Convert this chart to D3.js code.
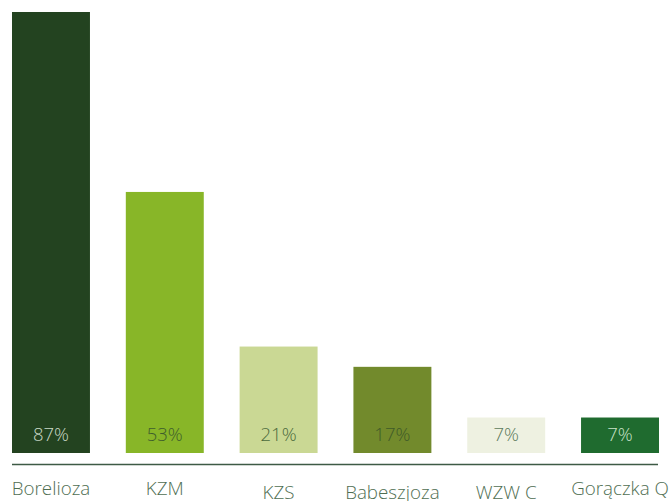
<!DOCTYPE html>
<html>
<head>
<meta charset="utf-8">
<script src="https://cdn.jsdelivr.net/npm/d3@7"></script>
<style>
  body { margin: 0; background: #fff; }
  svg { display: block; font-family: "Open Sans", sans-serif; }
</style>
</head>
<body>
<svg width="672" height="501"></svg>
<script>
// data
var categories = ["Borelioza", "KZM", "KZS", "Babeszjoza", "WZW C", "Gorączka Q"];
var values = [87, 51.5, 21, 17, 7, 7];
var valueLabels = ["87%", "53%", "21%", "17%", "7%", "7%"];

var barColors = ["#234320", "#88b628", "#cad894", "#728a2c", "#eef1e1", "#1f6b2f"];
var textColors = ["#c9d9c6", "#3f5e2c", "#4a6a3c", "#3f5a28", "#5b7a5b", "#c9e2c9"];
// category labels are staggered a bit in the original
var labelShift = [0, 0, 4, 4, 4, 0];

var svg = d3.select("svg"),
  margin = {top: 12, right: 13, bottom: 48, left: 12};

var g = svg.append("g")
  .attr("transform", "translate(" + margin.left + "," + margin.top + ")");

var x = d3.scaleBand().domain(categories).range([0, 647]).paddingInner(0.315).paddingOuter(0);
var y = d3.scaleLinear().domain([0, 87]).range([441, 0]);

g.selectAll(".bar")
  .data(categories)
  .enter().append("rect")
  .attr("class", "bar")
  .attr("x", function(d) { return x(d); })
  .attr("width", x.bandwidth())
  .attr("y", function(d, i) { return y(values[i]); })
  .attr("height", function(d, i) { return y(0) - y(values[i]); })
  .attr("fill", function(d, i) { return barColors[i]; });

g.selectAll(".val")
  .data(categories)
  .enter().append("text")
  .attr("class", "val")
  .attr("x", function(d) { return x(d) + x.bandwidth() / 2; })
  .attr("y", y(0) - 12)
  .attr("text-anchor", "middle")
  .style("font-size", "18.5px")
  .style("font-weight", 300)
  .attr("fill", function(d, i) { return textColors[i]; })
  .text(function(d, i) { return valueLabels[i]; });

// axis line
g.append("line")
  .attr("x1", 0).attr("x2", 646)
  .attr("y1", 452.5).attr("y2", 452.5)
  .attr("stroke", "#3d5a45")
  .attr("stroke-width", 1.5);

g.selectAll(".cat")
  .data(categories)
  .enter().append("text")
  .attr("class", "cat")
  .attr("x", function(d) { return x(d) + x.bandwidth() / 2; })
  .attr("y", function(d, i) { return 483 + labelShift[i]; })
  .attr("text-anchor", "middle")
  .style("font-size", "18.8px")
  .style("font-weight", 300)
  .attr("fill", "#4f6e52")
  .text(function(d) { return d; });
</script>
</body>
</html>
